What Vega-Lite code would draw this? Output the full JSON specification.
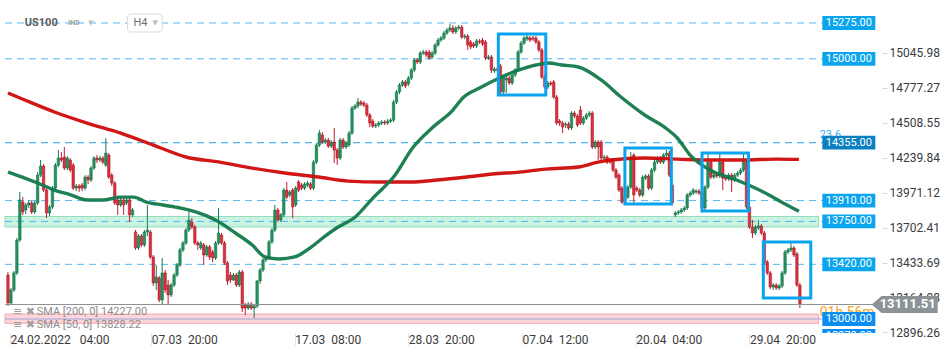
{
"$schema":"https://vega.github.io/schema/vega-lite/v6.json",
"width":882,"height":333,
"autosize":{"type":"none"},
"padding":{"left":0,"top":0,"right":68,"bottom":25},
"background":"white",
"config":{"view":{"stroke":null},"font":"Roboto"},
"datasets":{
"one":[{}],
"candles":[
{"i":0,"o":13338,"h":13361,"l":13100,"c":13123},{"i":1,"o":13123,"h":13238,"l":13107,"c":13223},{"i":2,"o":13223,"h":13369,"l":13208,"c":13354},{"i":3,"o":13354,"h":13623,"l":13338,"c":13607},{"i":4,"o":13607,"h":13976,"l":13592,"c":13915},{"i":5,"o":13899,"h":13937,"l":13800,"c":13823},{"i":6,"o":13838,"h":13892,"l":13807,"c":13876},{"i":7,"o":13876,"h":13915,"l":13853,"c":13892},{"i":8,"o":13892,"h":13907,"l":13807,"c":13823},{"i":9,"o":13823,"h":13907,"l":13807,"c":13892},
{"i":10,"o":13892,"h":14129,"l":13876,"c":14106},{"i":11,"o":14106,"h":14222,"l":14091,"c":14176},{"i":12,"o":14176,"h":14191,"l":13976,"c":13991},{"i":13,"o":13991,"h":14006,"l":13776,"c":13815},{"i":14,"o":13815,"h":13876,"l":13792,"c":13861},{"i":15,"o":13861,"h":14022,"l":13846,"c":14006},{"i":16,"o":14006,"h":14199,"l":13991,"c":14183},{"i":17,"o":14183,"h":14299,"l":14168,"c":14237},{"i":18,"o":14237,"h":14283,"l":14206,"c":14222},{"i":19,"o":14245,"h":14322,"l":14145,"c":14160},
{"i":20,"o":14160,"h":14252,"l":14145,"c":14237},{"i":21,"o":14222,"h":14237,"l":14129,"c":14145},{"i":22,"o":14183,"h":14199,"l":13991,"c":14006},{"i":23,"o":14006,"h":14037,"l":13983,"c":14022},{"i":24,"o":14022,"h":14037,"l":13976,"c":14006},{"i":25,"o":14029,"h":14045,"l":13983,"c":14006},{"i":26,"o":14006,"h":14106,"l":13991,"c":14091},{"i":27,"o":14091,"h":14106,"l":14037,"c":14068},{"i":28,"o":14068,"h":14176,"l":14053,"c":14160},{"i":29,"o":14160,"h":14252,"l":14145,"c":14237},
{"i":30,"o":14237,"h":14260,"l":14199,"c":14222},{"i":31,"o":14222,"h":14252,"l":14206,"c":14237},{"i":32,"o":14237,"h":14252,"l":14191,"c":14206},{"i":33,"o":14183,"h":14391,"l":14168,"c":14275},{"i":34,"o":14260,"h":14275,"l":14076,"c":14091},{"i":35,"o":14106,"h":14122,"l":14022,"c":14045},{"i":36,"o":14045,"h":14060,"l":13876,"c":13892},{"i":37,"o":13915,"h":13930,"l":13800,"c":13876},{"i":38,"o":13876,"h":13930,"l":13861,"c":13915},{"i":39,"o":13915,"h":13930,"l":13800,"c":13876},
{"i":40,"o":13892,"h":13930,"l":13876,"c":13915},{"i":41,"o":13915,"h":13930,"l":13746,"c":13800},{"i":42,"o":13800,"h":13853,"l":13784,"c":13838},{"i":43,"o":13669,"h":13684,"l":13531,"c":13546},{"i":44,"o":13546,"h":13653,"l":13531,"c":13638},{"i":45,"o":13638,"h":13653,"l":13554,"c":13569},{"i":46,"o":13569,"h":13684,"l":13554,"c":13669},{"i":47,"o":13669,"h":13876,"l":13638,"c":13684},{"i":48,"o":13669,"h":13684,"l":13461,"c":13477},{"i":49,"o":13477,"h":13492,"l":13254,"c":13277},
{"i":50,"o":13277,"h":13415,"l":13223,"c":13323},{"i":51,"o":13315,"h":13331,"l":13130,"c":13146},{"i":52,"o":13146,"h":13469,"l":13107,"c":13354},{"i":53,"o":13354,"h":13377,"l":13200,"c":13223},{"i":54,"o":13261,"h":13300,"l":13107,"c":13185},{"i":55,"o":13185,"h":13277,"l":13169,"c":13261},{"i":56,"o":13261,"h":13354,"l":13246,"c":13338},{"i":57,"o":13338,"h":13431,"l":13323,"c":13415},{"i":58,"o":13415,"h":13546,"l":13400,"c":13531},{"i":59,"o":13531,"h":13600,"l":13515,"c":13584},
{"i":60,"o":13584,"h":13700,"l":13569,"c":13684},{"i":61,"o":13684,"h":13823,"l":13669,"c":13761},{"i":62,"o":13746,"h":13776,"l":13692,"c":13707},{"i":63,"o":13707,"h":13723,"l":13569,"c":13584},{"i":64,"o":13584,"h":13600,"l":13531,"c":13569},{"i":65,"o":13546,"h":13600,"l":13531,"c":13584},{"i":66,"o":13569,"h":13584,"l":13415,"c":13492},{"i":67,"o":13492,"h":13569,"l":13477,"c":13554},{"i":68,"o":13554,"h":13569,"l":13454,"c":13477},{"i":69,"o":13515,"h":13531,"l":13438,"c":13469},
{"i":70,"o":13469,"h":13600,"l":13454,"c":13584},{"i":71,"o":13584,"h":13853,"l":13569,"c":13661},{"i":72,"o":13646,"h":13661,"l":13569,"c":13584},{"i":73,"o":13584,"h":13600,"l":13415,"c":13431},{"i":74,"o":13431,"h":13446,"l":13261,"c":13292},{"i":75,"o":13338,"h":13361,"l":13277,"c":13300},{"i":76,"o":13300,"h":13354,"l":13292,"c":13338},{"i":77,"o":13338,"h":13354,"l":13246,"c":13261},{"i":78,"o":13261,"h":13377,"l":13246,"c":13361},{"i":79,"o":13361,"h":13377,"l":13054,"c":13084},
{"i":80,"o":13107,"h":13123,"l":13031,"c":13084},{"i":81,"o":13084,"h":13130,"l":13069,"c":13115},{"i":82,"o":13115,"h":13130,"l":13069,"c":13084},{"i":83,"o":13084,"h":13115,"l":13007,"c":13100},{"i":84,"o":13100,"h":13300,"l":13084,"c":13292},{"i":85,"o":13292,"h":13392,"l":13269,"c":13377},{"i":86,"o":13377,"h":13469,"l":13361,"c":13454},{"i":87,"o":13454,"h":13484,"l":13438,"c":13469},{"i":88,"o":13469,"h":13607,"l":13454,"c":13592},{"i":89,"o":13592,"h":13700,"l":13577,"c":13684},
{"i":90,"o":13684,"h":13876,"l":13669,"c":13838},{"i":91,"o":13838,"h":13853,"l":13746,"c":13761},{"i":92,"o":13761,"h":13815,"l":13746,"c":13800},{"i":93,"o":13800,"h":14006,"l":13784,"c":13991},{"i":94,"o":13991,"h":14053,"l":13922,"c":13937},{"i":95,"o":13953,"h":13991,"l":13937,"c":13976},{"i":96,"o":13991,"h":14006,"l":13776,"c":13861},{"i":97,"o":13876,"h":14022,"l":13861,"c":14006},{"i":98,"o":14053,"h":14068,"l":13976,"c":13991},{"i":99,"o":14029,"h":14045,"l":13991,"c":14006},
{"i":100,"o":14006,"h":14053,"l":13991,"c":14037},{"i":101,"o":14029,"h":14060,"l":14014,"c":14045},{"i":102,"o":14037,"h":14053,"l":13991,"c":14006},{"i":103,"o":14006,"h":14222,"l":13991,"c":14206},{"i":104,"o":14206,"h":14352,"l":14191,"c":14337},{"i":105,"o":14337,"h":14452,"l":14322,"c":14429},{"i":106,"o":14414,"h":14437,"l":14345,"c":14360},{"i":107,"o":14360,"h":14391,"l":14345,"c":14375},{"i":108,"o":14375,"h":14391,"l":14314,"c":14329},{"i":109,"o":14329,"h":14375,"l":14314,"c":14360},
{"i":110,"o":14360,"h":14468,"l":14199,"c":14299},{"i":111,"o":14299,"h":14314,"l":14183,"c":14237},{"i":112,"o":14237,"h":14391,"l":14222,"c":14375},{"i":113,"o":14375,"h":14391,"l":14306,"c":14322},{"i":114,"o":14322,"h":14368,"l":14306,"c":14352},{"i":115,"o":14337,"h":14445,"l":14322,"c":14429},{"i":116,"o":14429,"h":14637,"l":14414,"c":14621},{"i":117,"o":14621,"h":14652,"l":14606,"c":14637},{"i":118,"o":14637,"h":14699,"l":14621,"c":14667},{"i":119,"o":14667,"h":14683,"l":14637,"c":14652},
{"i":120,"o":14660,"h":14675,"l":14629,"c":14644},{"i":121,"o":14644,"h":14660,"l":14552,"c":14568},{"i":122,"o":14568,"h":14583,"l":14475,"c":14506},{"i":123,"o":14521,"h":14537,"l":14468,"c":14483},{"i":124,"o":14483,"h":14506,"l":14468,"c":14491},{"i":125,"o":14491,"h":14521,"l":14475,"c":14506},{"i":126,"o":14506,"h":14529,"l":14491,"c":14514},{"i":127,"o":14514,"h":14529,"l":14491,"c":14506},{"i":128,"o":14506,"h":14537,"l":14491,"c":14521},{"i":129,"o":14521,"h":14544,"l":14506,"c":14529},
{"i":130,"o":14529,"h":14683,"l":14514,"c":14667},{"i":131,"o":14667,"h":14760,"l":14652,"c":14745},{"i":132,"o":14745,"h":14814,"l":14729,"c":14798},{"i":133,"o":14798,"h":14837,"l":14783,"c":14822},{"i":134,"o":14822,"h":14837,"l":14775,"c":14791},{"i":135,"o":14806,"h":14868,"l":14791,"c":14852},{"i":136,"o":14852,"h":14929,"l":14837,"c":14914},{"i":137,"o":14914,"h":15006,"l":14898,"c":14991},{"i":138,"o":14991,"h":15006,"l":14960,"c":14975},{"i":139,"o":14975,"h":15060,"l":14960,"c":15044},
{"i":140,"o":15044,"h":15068,"l":15029,"c":15052},{"i":141,"o":15052,"h":15068,"l":15014,"c":15029},{"i":142,"o":15052,"h":15068,"l":14991,"c":15006},{"i":143,"o":15014,"h":15060,"l":14998,"c":15044},{"i":144,"o":15044,"h":15121,"l":15029,"c":15106},{"i":145,"o":15106,"h":15160,"l":15091,"c":15144},{"i":146,"o":15144,"h":15175,"l":15129,"c":15160},{"i":147,"o":15160,"h":15214,"l":15144,"c":15198},{"i":148,"o":15198,"h":15237,"l":15183,"c":15221},{"i":149,"o":15221,"h":15267,"l":15206,"c":15237},
{"i":150,"o":15237,"h":15260,"l":15190,"c":15206},{"i":151,"o":15206,"h":15252,"l":15190,"c":15237},{"i":152,"o":15237,"h":15260,"l":15221,"c":15244},{"i":153,"o":15244,"h":15260,"l":15152,"c":15167},{"i":154,"o":15167,"h":15190,"l":15152,"c":15175},{"i":155,"o":15175,"h":15190,"l":15068,"c":15106},{"i":156,"o":15129,"h":15144,"l":15075,"c":15091},{"i":157,"o":15114,"h":15129,"l":15083,"c":15098},{"i":158,"o":15098,"h":15152,"l":15083,"c":15137},{"i":159,"o":15137,"h":15152,"l":15114,"c":15129},
{"i":160,"o":15144,"h":15160,"l":15098,"c":15114},{"i":161,"o":15129,"h":15144,"l":14991,"c":15006},{"i":162,"o":15006,"h":15029,"l":14991,"c":15014},{"i":163,"o":15014,"h":15029,"l":14891,"c":14914},{"i":164,"o":14906,"h":14937,"l":14891,"c":14921},{"i":165,"o":14921,"h":14937,"l":14898,"c":14914},{"i":166,"o":14945,"h":14960,"l":14722,"c":14745},{"i":167,"o":14745,"h":14875,"l":14729,"c":14860},{"i":168,"o":14837,"h":14868,"l":14737,"c":14852},{"i":169,"o":14852,"h":14868,"l":14798,"c":14814},
{"i":170,"o":14814,"h":14891,"l":14798,"c":14875},{"i":171,"o":14875,"h":14929,"l":14860,"c":14914},{"i":172,"o":14914,"h":15068,"l":14898,"c":15052},{"i":173,"o":15052,"h":15137,"l":15037,"c":15121},{"i":174,"o":15121,"h":15175,"l":15106,"c":15160},{"i":175,"o":15152,"h":15183,"l":15137,"c":15167},{"i":176,"o":15160,"h":15175,"l":15129,"c":15144},{"i":177,"o":15160,"h":15175,"l":15137,"c":15152},{"i":178,"o":15160,"h":15175,"l":15114,"c":15129},{"i":179,"o":15129,"h":15144,"l":15052,"c":15068},
{"i":180,"o":15068,"h":15083,"l":14845,"c":14860},{"i":181,"o":14860,"h":14875,"l":14768,"c":14783},{"i":182,"o":14783,"h":14829,"l":14768,"c":14814},{"i":183,"o":14814,"h":14829,"l":14791,"c":14806},{"i":184,"o":14822,"h":14837,"l":14691,"c":14706},{"i":185,"o":14706,"h":14722,"l":14491,"c":14506},{"i":186,"o":14521,"h":14537,"l":14483,"c":14506},{"i":187,"o":14506,"h":14521,"l":14429,"c":14475},{"i":188,"o":14491,"h":14514,"l":14468,"c":14498},{"i":189,"o":14498,"h":14514,"l":14452,"c":14468},
{"i":190,"o":14468,"h":14598,"l":14452,"c":14583},{"i":191,"o":14583,"h":14598,"l":14544,"c":14560},{"i":192,"o":14560,"h":14575,"l":14475,"c":14491},{"i":193,"o":14606,"h":14637,"l":14491,"c":14506},{"i":194,"o":14506,"h":14560,"l":14491,"c":14544},{"i":195,"o":14544,"h":14583,"l":14529,"c":14568},{"i":196,"o":14568,"h":14598,"l":14552,"c":14583},{"i":197,"o":14583,"h":14598,"l":14306,"c":14322},{"i":198,"o":14322,"h":14375,"l":14306,"c":14360},{"i":199,"o":14360,"h":14375,"l":14222,"c":14322},
{"i":200,"o":14360,"h":14375,"l":14222,"c":14237},{"i":201,"o":14237,"h":14260,"l":14222,"c":14245},{"i":202,"o":14245,"h":14260,"l":14191,"c":14206},{"i":203,"o":14222,"h":14237,"l":14191,"c":14206},{"i":204,"o":14222,"h":14237,"l":14129,"c":14145},{"i":205,"o":14145,"h":14160,"l":14076,"c":14091},{"i":206,"o":14106,"h":14122,"l":13976,"c":13991},{"i":207,"o":14006,"h":14022,"l":13884,"c":13899},{"i":208,"o":13899,"h":13953,"l":13884,"c":13937},{"i":209,"o":13937,"h":14029,"l":13922,"c":14014},
{"i":210,"o":14014,"h":14283,"l":13999,"c":14245},{"i":211,"o":14260,"h":14275,"l":13892,"c":13953},{"i":212,"o":14006,"h":14022,"l":13976,"c":13991},{"i":213,"o":13991,"h":14006,"l":13937,"c":13953},{"i":214,"o":13953,"h":14106,"l":13937,"c":14091},{"i":215,"o":14083,"h":14114,"l":14068,"c":14099},{"i":216,"o":14099,"h":14114,"l":13991,"c":14006},{"i":217,"o":14006,"h":14160,"l":13991,"c":14145},{"i":218,"o":14145,"h":14222,"l":14129,"c":14206},{"i":219,"o":14206,"h":14252,"l":14191,"c":14237},
{"i":220,"o":14237,"h":14252,"l":14191,"c":14206},{"i":221,"o":14206,"h":14275,"l":14191,"c":14260},{"i":222,"o":14260,"h":14299,"l":14245,"c":14275},{"i":223,"o":14275,"h":14291,"l":14091,"c":14106},{"i":224,"o":14029,"h":14045,"l":13876,"c":13892},{"i":225,"o":13800,"h":13830,"l":13784,"c":13815},{"i":226,"o":13815,"h":13838,"l":13800,"c":13823},{"i":227,"o":13823,"h":13853,"l":13807,"c":13838},{"i":228,"o":13838,"h":13869,"l":13823,"c":13853},{"i":229,"o":13853,"h":13968,"l":13838,"c":13953},
{"i":230,"o":13953,"h":13983,"l":13937,"c":13968},{"i":231,"o":13968,"h":14006,"l":13953,"c":13991},{"i":232,"o":13976,"h":13999,"l":13960,"c":13983},{"i":233,"o":13983,"h":13999,"l":13953,"c":13968},{"i":234,"o":13968,"h":13983,"l":13838,"c":13853},{"i":235,"o":13853,"h":14029,"l":13838,"c":14014},{"i":236,"o":14014,"h":14275,"l":13999,"c":14206},{"i":237,"o":14206,"h":14222,"l":14076,"c":14091},{"i":238,"o":14091,"h":14122,"l":14076,"c":14106},{"i":239,"o":14106,"h":14122,"l":14083,"c":14099},
{"i":240,"o":14099,"h":14275,"l":14083,"c":14206},{"i":241,"o":14206,"h":14222,"l":13991,"c":14083},{"i":242,"o":14091,"h":14106,"l":14060,"c":14076},{"i":243,"o":14076,"h":14122,"l":14060,"c":14106},{"i":244,"o":14106,"h":14122,"l":13976,"c":14068},{"i":245,"o":14068,"h":14122,"l":14053,"c":14106},{"i":246,"o":14106,"h":14137,"l":14091,"c":14122},{"i":247,"o":14122,"h":14160,"l":14106,"c":14145},{"i":248,"o":14145,"h":14275,"l":14129,"c":14206},{"i":249,"o":14206,"h":14222,"l":13846,"c":13861},
{"i":250,"o":13861,"h":13876,"l":13692,"c":13707},{"i":251,"o":13707,"h":13761,"l":13623,"c":13661},{"i":252,"o":13661,"h":13723,"l":13646,"c":13707},{"i":253,"o":13700,"h":13761,"l":13684,"c":13715},{"i":254,"o":13715,"h":13730,"l":13646,"c":13661},{"i":255,"o":13661,"h":13677,"l":13415,"c":13431},{"i":256,"o":13438,"h":13454,"l":13338,"c":13354},{"i":257,"o":13354,"h":13369,"l":13231,"c":13246},{"i":258,"o":13246,"h":13277,"l":13223,"c":13261},{"i":259,"o":13261,"h":13277,"l":13223,"c":13238},
{"i":260,"o":13238,"h":13269,"l":13223,"c":13254},{"i":261,"o":13254,"h":13369,"l":13238,"c":13354},{"i":262,"o":13354,"h":13531,"l":13338,"c":13515},{"i":263,"o":13515,"h":13546,"l":13500,"c":13531},{"i":264,"o":13531,"h":13584,"l":13515,"c":13546},{"i":265,"o":13546,"h":13561,"l":13477,"c":13492},{"i":266,"o":13500,"h":13515,"l":13246,"c":13261},{"i":267,"o":13261,"h":13277,"l":13084,"c":13112}
],
"red":[{"i":0,"v":14737},{"i":5.67,"v":14683},{"i":15.67,"v":14591},{"i":26.67,"v":14506},{"i":38,"v":14429},{"i":49,"v":14337},{"i":60,"v":14245},{"i":71.33,"v":14206},{"i":82.33,"v":14160},{"i":93.33,"v":14122},{"i":104.67,"v":14091},{"i":114.67,"v":14060},{"i":125.67,"v":14053},{"i":135.67,"v":14053},{"i":144.67,"v":14068},{"i":154.67,"v":14091},{"i":163.33,"v":14114},{"i":172.33,"v":14129},{"i":181.33,"v":14152},{"i":192.33,"v":14168},{"i":199,"v":14206},{"i":203.33,"v":14222},{"i":214.67,"v":14237},{"i":225.67,"v":14229},{"i":236.67,"v":14222},{"i":248,"v":14222},{"i":259,"v":14229},{"i":266.67,"v":14227}],
"green":[{"i":0,"v":14129},{"i":5.67,"v":14083},{"i":10,"v":14045},{"i":15.67,"v":13991},{"i":21.33,"v":13953},{"i":26.67,"v":13915},{"i":32.33,"v":13915},{"i":38,"v":13937},{"i":42.33,"v":13937},{"i":46.67,"v":13899},{"i":52.33,"v":13876},{"i":58,"v":13853},{"i":63.33,"v":13823},{"i":70,"v":13761},{"i":76.67,"v":13661},{"i":82.33,"v":13569},{"i":86.67,"v":13477},{"i":91.33,"v":13461},{"i":96.67,"v":13477},{"i":102.33,"v":13554},{"i":105.67,"v":13615},{"i":111.33,"v":13707},{"i":116.67,"v":13776},{"i":123.33,"v":13937},{"i":130,"v":14091},{"i":136.67,"v":14322},{"i":143.33,"v":14475},{"i":150,"v":14606},{"i":153.33,"v":14699},{"i":159,"v":14775},{"i":165.67,"v":14852},{"i":172.33,"v":14914},{"i":178,"v":14952},{"i":182.33,"v":14968},{"i":186.67,"v":14952},{"i":192.33,"v":14937},{"i":200,"v":14837},{"i":206.67,"v":14706},{"i":214.67,"v":14568},{"i":221.33,"v":14475},{"i":225.67,"v":14391},{"i":230,"v":14260},{"i":236.67,"v":14145},{"i":245.67,"v":14068},{"i":254.67,"v":13976},{"i":261.33,"v":13892},{"i":266.67,"v":13828}],
"levels":[{"v":15275,"t":"line"},{"v":15000,"t":"line"},{"v":14355,"t":"fib"},{"v":13910,"t":"line"},{"v":13750,"t":"line"},{"v":13420,"t":"line"},{"v":13000,"t":"zone"},{"v":12870,"t":"zone"}],
"zones":[{"p1":13707,"p2":13788,"z":"support"},{"p1":12967,"p2":13038,"z":"resistance"}],
"boxes":[{"i1":165.33,"i2":181.33,"p1":15191,"p2":14722},{"i1":208,"i2":223.67,"p1":14314,"p2":13884},{"i1":234,"i2":249.67,"p1":14276,"p2":13830},{"i1":254.67,"i2":270.67,"p1":13592,"p2":13162}]
},
"layer":[
{"data":{"name":"candles"},"mark":{"type":"rule","strokeWidth":1,"opacity":0},
"encoding":{
"x":{"field":"i","type":"quantitative","title":null,"scale":{"domain":[-1,293],"nice":false,"zero":false},
"axis":{"values":[0.67,48.33,96.67,135,173.33,211.67,250],"labelExpr":"datum.value < 10 ? '24.02.2022\u00a0\u00a0\u00a004:00' : datum.value < 60 ? '07.03\u00a0\u00a020:00' : datum.value < 100 ? '17.03\u00a0\u00a008:00' : datum.value < 150 ? '28.03\u00a0\u00a020:00' : datum.value < 190 ? '07.04\u00a0\u00a012:00' : datum.value < 230 ? '20.04\u00a0\u00a004:00' : '29.04\u00a0\u00a020:00'","tickSize":12,"tickColor":"#e4e4e4","labelPadding":-11,"labelAlign":"left","labelBaseline":"top","labelFont":"Roboto","labelFontSize":12,"labelColor":"#3a3a3a","domain":false,"grid":false,"labelFlush":false,"labelOverlap":false}},
"y":{"field":"l","type":"quantitative","title":null,"scale":{"domain":[12892.4,15451.8],"nice":false,"zero":false},
"axis":{"orient":"right","values":[12896.26,13164.98,13433.69,13702.41,13971.12,14239.84,14508.55,14777.27,15045.98],"format":".2f","tickSize":5,"tickColor":"#d4d4d4","labelPadding":2,"labelFont":"Roboto","labelFontSize":12,"labelColor":"#3a3a3a","domain":false,"grid":false,"labelFlush":false,"labelOverlap":false,"labelBaseline":"middle"}},
"y2":{"field":"h"}}},
{"data":{"name":"zones"},"mark":{"type":"rect","strokeWidth":1},
"encoding":{
"x":{"datum":-1,"type":"quantitative","title":null,"scale":{"domain":[-1,293],"nice":false,"zero":false}},
"x2":{"datum":273.33},
"y":{"field":"p1","type":"quantitative","title":null,"scale":{"domain":[12892.4,15451.8],"nice":false,"zero":false}},
"y2":{"field":"p2"},
"fill":{"condition":{"test":"datum.z == 'support'","value":"#c9f2e1"},"value":"#fcd6da"},
"stroke":{"condition":{"test":"datum.z == 'support'","value":"#93dcbb"},"value":"#f3a8b0"}}},
{"data":{"name":"levels"},"mark":{"type":"rule","strokeWidth":1,"clip":true},
"encoding":{
"x":{"datum":-1,"type":"quantitative","title":null,"scale":{"domain":[-1,293],"nice":false,"zero":false}},
"x2":{"datum":274.67},
"y":{"field":"v","type":"quantitative","title":null,"scale":{"domain":[12892.4,15451.8],"nice":false,"zero":false}},
"color":{"condition":[{"test":"datum.t == 'fib'","value":"#1d9fe6"},{"test":"datum.t == 'zone'","value":"#9aa4dc"}],"value":"#55b9f1"},
"strokeDash":{"condition":{"test":"datum.t == 'zone'","value":[1,0]},"value":[7,5]}}},
{"data":{"name":"candles"},"mark":{"type":"rule","strokeWidth":1},
"encoding":{
"x":{"field":"i","type":"quantitative","title":null,"scale":{"domain":[-1,293],"nice":false,"zero":false}},
"y":{"field":"l","type":"quantitative","title":null,"scale":{"domain":[12892.4,15451.8],"nice":false,"zero":false}},
"y2":{"field":"h"},
"color":{"condition":{"test":"datum.c >= datum.o","value":"#177a4e"},"value":"#c21d2d"}}},
{"data":{"name":"candles"},"mark":{"type":"bar","width":2.5,"strokeWidth":0.5},
"encoding":{
"x":{"field":"i","type":"quantitative","title":null,"scale":{"domain":[-1,293],"nice":false,"zero":false}},
"y":{"field":"o","type":"quantitative","title":null,"scale":{"domain":[12892.4,15451.8],"nice":false,"zero":false}},
"y2":{"field":"c"},
"fill":{"condition":{"test":"datum.c >= datum.o","value":"#23935f"},"value":"#dc2f3f"},
"stroke":{"condition":{"test":"datum.c >= datum.o","value":"#0f6b42"},"value":"#a3141f"}}},
{"data":{"name":"red"},"mark":{"type":"line","strokeWidth":3.4,"color":"#cf0a0a","interpolate":"monotone","opacity":0.95},
"encoding":{
"x":{"field":"i","type":"quantitative","title":null,"scale":{"domain":[-1,293],"nice":false,"zero":false}},
"y":{"field":"v","type":"quantitative","title":null,"scale":{"domain":[12892.4,15451.8],"nice":false,"zero":false}}}},
{"data":{"name":"green"},"mark":{"type":"line","strokeWidth":3.4,"color":"#13794b","interpolate":"monotone","opacity":0.95},
"encoding":{
"x":{"field":"i","type":"quantitative","title":null,"scale":{"domain":[-1,293],"nice":false,"zero":false}},
"y":{"field":"v","type":"quantitative","title":null,"scale":{"domain":[12892.4,15451.8],"nice":false,"zero":false}}}},
{"data":{"name":"boxes"},"mark":{"type":"rect","filled":false,"stroke":"#0aa4ee","strokeWidth":3},
"encoding":{
"x":{"field":"i1","type":"quantitative","title":null,"scale":{"domain":[-1,293],"nice":false,"zero":false}},
"x2":{"field":"i2"},
"y":{"field":"p1","type":"quantitative","title":null,"scale":{"domain":[12892.4,15451.8],"nice":false,"zero":false}},
"y2":{"field":"p2"}}},
{"data":{"name":"one"},"mark":{"type":"rule","color":"#8d9296","strokeWidth":1.2},
"encoding":{
"x":{"datum":-1,"type":"quantitative","title":null,"scale":{"domain":[-1,293],"nice":false,"zero":false}},
"x2":{"datum":292.3},
"y":{"datum":13111.51,"type":"quantitative","title":null,"scale":{"domain":[12892.4,15451.8],"nice":false,"zero":false}}}},
{"data":{"name":"one"},"mark":{"type":"text","text":"01h 56m","align":"left","baseline":"middle","fontSize":14,"color":"#f5a623","font":"Roboto"},
"encoding":{
"x":{"datum":273.67,"type":"quantitative","title":null,"scale":{"domain":[-1,293],"nice":false,"zero":false}},
"y":{"datum":13046,"type":"quantitative","title":null,"scale":{"domain":[12892.4,15451.8],"nice":false,"zero":false}}}},
{"data":{"name":"one"},"mark":{"type":"text","text":"23.6","align":"left","baseline":"middle","fontSize":11,"color":"#3fb0f2","font":"Roboto"},
"encoding":{
"x":{"datum":273.67,"type":"quantitative","title":null,"scale":{"domain":[-1,293],"nice":false,"zero":false}},
"y":{"datum":14414,"type":"quantitative","title":null,"scale":{"domain":[12892.4,15451.8],"nice":false,"zero":false}}}},
{"data":{"name":"levels"},"mark":{"type":"point","shape":"M-1,-0.26H1V0.26H-1Z","size":2809,"filled":true,"opacity":1,"clip":true},
"encoding":{
"x":{"datum":283.5,"type":"quantitative","title":null,"scale":{"domain":[-1,293],"nice":false,"zero":false}},
"y":{"field":"v","type":"quantitative","title":null,"scale":{"domain":[12892.4,15451.8],"nice":false,"zero":false}},
"color":{"condition":[{"test":"datum.t == 'fib'","value":"#0a7fc2"},{"test":"datum.t == 'zone'","value":"#0b8df2"}],"value":"#0ba5ee"}}},
{"data":{"name":"levels"},"mark":{"type":"text","align":"center","baseline":"middle","fontSize":11,"color":"white","font":"Roboto","clip":true},
"encoding":{
"x":{"datum":283.5,"type":"quantitative","title":null,"scale":{"domain":[-1,293],"nice":false,"zero":false}},
"y":{"field":"v","type":"quantitative","title":null,"scale":{"domain":[12892.4,15451.8],"nice":false,"zero":false}},
"text":{"field":"v","type":"quantitative","format":".2f"}}},
{"data":{"name":"one"},"mark":{"type":"point","shape":"M-1,0L-0.7,-0.26H1V0.26H-0.7Z","size":4356,"filled":true,"opacity":1,"color":"#8b9398"},
"encoding":{
"x":{"datum":302.33,"type":"quantitative","title":null,"scale":{"domain":[-1,293],"nice":false,"zero":false}},
"y":{"datum":13111.51,"type":"quantitative","title":null,"scale":{"domain":[12892.4,15451.8],"nice":false,"zero":false}}}},
{"data":{"name":"one"},"mark":{"type":"text","text":"13111.51","align":"center","baseline":"middle","fontSize":13,"fontWeight":"bold","color":"white","font":"Roboto"},
"encoding":{
"x":{"datum":303.33,"type":"quantitative","title":null,"scale":{"domain":[-1,293],"nice":false,"zero":false}},
"y":{"datum":13111.51,"type":"quantitative","title":null,"scale":{"domain":[12892.4,15451.8],"nice":false,"zero":false}}}},
{"data":{"name":"one"},"mark":{"type":"rect","fill":"white","stroke":"#d9d9d9","strokeWidth":1,"cornerRadius":3},
"encoding":{
"x":{"datum":40.33,"type":"quantitative","title":null,"scale":{"domain":[-1,293],"nice":false,"zero":false}},
"x2":{"datum":52},
"y":{"datum":15206,"type":"quantitative","title":null,"scale":{"domain":[12892.4,15451.8],"nice":false,"zero":false}},
"y2":{"datum":15344}}},
{"data":{"name":"one"},"mark":{"type":"text","text":"H4","align":"left","baseline":"middle","fontSize":11,"color":"#707070","font":"Roboto"},
"encoding":{
"x":{"datum":42.33,"type":"quantitative","title":null,"scale":{"domain":[-1,293],"nice":false,"zero":false}},
"y":{"datum":15275,"type":"quantitative","title":null,"scale":{"domain":[12892.4,15451.8],"nice":false,"zero":false}}}},
{"data":{"name":"one"},"mark":{"type":"text","text":"▼","align":"center","baseline":"middle","fontSize":7,"color":"#bdbdbd","font":"DejaVu Sans"},
"encoding":{
"x":{"datum":49.67,"type":"quantitative","title":null,"scale":{"domain":[-1,293],"nice":false,"zero":false}},
"y":{"datum":15275,"type":"quantitative","title":null,"scale":{"domain":[12892.4,15451.8],"nice":false,"zero":false}}}},
{"data":{"name":"one"},"mark":{"type":"text","text":"▼","align":"center","baseline":"middle","fontSize":7,"color":"#c4c4c4","font":"DejaVu Sans"},
"encoding":{
"x":{"datum":28,"type":"quantitative","title":null,"scale":{"domain":[-1,293],"nice":false,"zero":false}},
"y":{"datum":15275,"type":"quantitative","title":null,"scale":{"domain":[12892.4,15451.8],"nice":false,"zero":false}}}},
{"data":{"name":"one"},"mark":{"type":"text","text":"US100","align":"left","baseline":"middle","fontSize":11,"fontWeight":"bold","color":"#5b5b5b","font":"Roboto"},
"encoding":{
"x":{"datum":5.67,"type":"quantitative","title":null,"scale":{"domain":[-1,293],"nice":false,"zero":false}},
"y":{"datum":15275,"type":"quantitative","title":null,"scale":{"domain":[12892.4,15451.8],"nice":false,"zero":false}}}},
{"data":{"name":"one"},"mark":{"type":"text","text":"IND","align":"left","baseline":"middle","fontSize":7,"fontWeight":"bold","color":"#9ba3ab","font":"Roboto"},
"encoding":{
"x":{"datum":20.33,"type":"quantitative","title":null,"scale":{"domain":[-1,293],"nice":false,"zero":false}},
"y":{"datum":15275,"type":"quantitative","title":null,"scale":{"domain":[12892.4,15451.8],"nice":false,"zero":false}}}},
{"data":{"name":"one"},"mark":{"type":"text","text":"≡ ✖","align":"left","baseline":"middle","fontSize":11,"color":"#a0a0a0","font":"DejaVu Sans"},
"encoding":{
"x":{"datum":1.67,"type":"quantitative","title":null,"scale":{"domain":[-1,293],"nice":false,"zero":false}},
"y":{"datum":13056,"type":"quantitative","title":null,"scale":{"domain":[12892.4,15451.8],"nice":false,"zero":false}}}},
{"data":{"name":"one"},"mark":{"type":"text","text":"≡ ✖","align":"left","baseline":"middle","fontSize":11,"color":"#a0a0a0","font":"DejaVu Sans"},
"encoding":{
"x":{"datum":1.67,"type":"quantitative","title":null,"scale":{"domain":[-1,293],"nice":false,"zero":false}},
"y":{"datum":12954,"type":"quantitative","title":null,"scale":{"domain":[12892.4,15451.8],"nice":false,"zero":false}}}},
{"data":{"name":"one"},"mark":{"type":"text","text":"SMA [200, 0] 14227.00","align":"left","baseline":"middle","fontSize":11,"color":"#8c8c8c","font":"Roboto"},
"encoding":{
"x":{"datum":9.67,"type":"quantitative","title":null,"scale":{"domain":[-1,293],"nice":false,"zero":false}},
"y":{"datum":13056,"type":"quantitative","title":null,"scale":{"domain":[12892.4,15451.8],"nice":false,"zero":false}}}},
{"data":{"name":"one"},"mark":{"type":"text","text":"SMA [50, 0] 13828.22","align":"left","baseline":"middle","fontSize":11,"color":"#8c8c8c","font":"Roboto"},
"encoding":{
"x":{"datum":9.67,"type":"quantitative","title":null,"scale":{"domain":[-1,293],"nice":false,"zero":false}},
"y":{"datum":12954,"type":"quantitative","title":null,"scale":{"domain":[12892.4,15451.8],"nice":false,"zero":false}}}}
]
}
